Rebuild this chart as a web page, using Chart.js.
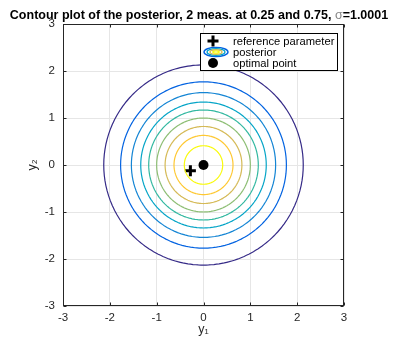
<!DOCTYPE html>
<html><head><meta charset="utf-8">
<script src="https://cdn.jsdelivr.net/npm/chart.js@4/dist/chart.umd.min.js"></script>
<style>html,body{margin:0;padding:0;background:#fff;}</style>
</head><body>
<canvas id="c" width="398" height="339"></canvas>
<script>
// ---- data ----
const titleParts = ['Contour plot of the posterior, 2 meas. at 0.25 and 0.75, ', 'σ', '=1.0001'];
const xTicks = [-3, -2, -1, 0, 1, 2, 3];
const yTicks = [-3, -2, -1, 0, 1, 2, 3];
const contourRadii = [2.13, 1.77, 1.54, 1.34, 1.17, 1.00, 0.82, 0.63, 0.41];
const contourCenter = [0, 0];
const referenceParameter = [-0.28, -0.12];
const optimalPoint = [0, 0];
const legendLabels = ['reference parameter', 'posterior', 'optimal point'];
const axisLabels = ['y₁', 'y₂'];

// ---- styles ----
const contourColors = ['#352a87', '#0363e1', '#1485d4', '#06a5c7', '#33b8a1', '#8dbe74', '#d5ba57', '#fec832', '#f9fa0e'];
const FONT = '"Liberation Sans", Arial, Helvetica, sans-serif';
const AX = '#262626';

function circlePoints(c, r) {
  const pts = [];
  for (let a = 0; a <= 360; a += 3) {
    const t = a * Math.PI / 180;
    pts.push({x: c[0] + r * Math.cos(t), y: c[1] + r * Math.sin(t)});
  }
  return pts;
}

const datasets = contourRadii.map((r, i) => ({
  label: 'posterior', data: circlePoints(contourCenter, r), showLine: true,
  borderColor: contourColors[i], borderWidth: 1.2, pointRadius: 0, fill: false, tension: 0.0001
}));
datasets.push({label: legendLabels[0], data: [{x: referenceParameter[0], y: referenceParameter[1]}],
  pointStyle: 'cross', pointRadius: 5.5, borderColor: '#000', borderWidth: 3, backgroundColor: '#000'});
datasets.push({label: legendLabels[2], data: [{x: optimalPoint[0], y: optimalPoint[1]}],
  pointStyle: 'circle', pointRadius: 5, borderColor: '#000', borderWidth: 0, backgroundColor: '#000'});

const decor = {
  id: 'decor',
  afterDatasetsDraw(chart) {
    const {ctx, chartArea: a, scales: {x, y}} = chart;
    ctx.save();
    ctx.strokeStyle = AX; ctx.lineWidth = 1;
    const L = Math.round(a.left) + 0.5, R = Math.round(a.right) - 0.5, T = Math.round(a.top) + 0.5, B = Math.round(a.bottom) - 0.5;
    ctx.strokeRect(L, T, R - L, B - T);
    ctx.beginPath();
    xTicks.forEach(v => { const px = Math.round(x.getPixelForValue(v)) + 0.5;
      ctx.moveTo(px, B); ctx.lineTo(px, B - 3); ctx.moveTo(px, T); ctx.lineTo(px, T + 3); });
    yTicks.forEach(v => { const py = Math.round(y.getPixelForValue(v)) + 0.5;
      ctx.moveTo(L, py); ctx.lineTo(L + 3, py); ctx.moveTo(R, py); ctx.lineTo(R - 3, py); });
    ctx.stroke();
    ctx.restore();
  },
  afterDraw(chart) {
    const {ctx, chartArea: a} = chart;
    ctx.save();
    // title
    const fb = 'bold 12.5px ' + FONT, fn = '12.5px ' + FONT;
    ctx.font = fb; const w0 = ctx.measureText(titleParts[0]).width, w2 = ctx.measureText(titleParts[2]).width;
    ctx.font = fn; const w1 = ctx.measureText(titleParts[1]).width;
    let tx = 199 - (w0 + w1 + w2) / 2; const ty = 19;
    ctx.textBaseline = 'alphabetic'; ctx.textAlign = 'left';
    ctx.fillStyle = '#000'; ctx.font = fb; ctx.fillText(titleParts[0], tx, ty); tx += w0;
    ctx.fillStyle = '#888'; ctx.font = fn; ctx.fillText(titleParts[1], tx, ty); tx += w1;
    ctx.fillStyle = '#000'; ctx.font = fb; ctx.fillText(titleParts[2], tx, ty);
    // legend
    const lx = Math.round(a.right) - 144, ly = Math.round(a.top) + 9, lw = 137, lh = 37;
    ctx.fillStyle = '#fff'; ctx.fillRect(lx, ly, lw, lh);
    ctx.strokeStyle = '#000'; ctx.lineWidth = 1; ctx.strokeRect(lx + 0.5, ly + 0.5, lw, lh);
    const rows = [ly + 8, ly + 19, ly + 30];
    const ix = lx + 13;
    ctx.strokeStyle = '#000'; ctx.lineWidth = 3; ctx.beginPath();
    ctx.moveTo(ix - 5.5, rows[0]); ctx.lineTo(ix + 5.5, rows[0]);
    ctx.moveTo(ix, rows[0] - 5.5); ctx.lineTo(ix, rows[0] + 5.5); ctx.stroke();
    const ell = [[12, 4.6, contourColors[1]], [9, 3.4, contourColors[3]], [6, 2.2, contourColors[6]], [3.2, 1.1, contourColors[8]]];
    ctx.lineWidth = 1.4;
    ell.forEach(([rx, ry, c]) => { ctx.strokeStyle = c; ctx.beginPath(); ctx.ellipse(ix + 3, rows[1], rx, ry, 0, 0, 2 * Math.PI); ctx.stroke(); });
    ctx.fillStyle = '#000'; ctx.beginPath(); ctx.arc(ix, rows[2], 5, 0, 2 * Math.PI); ctx.fill();
    ctx.font = '11.2px ' + FONT; ctx.fillStyle = '#000'; ctx.textBaseline = 'middle';
    legendLabels.forEach((t, i) => ctx.fillText(t, lx + 33, rows[i] + 0.5));
    ctx.restore();
  }
};

new Chart(document.getElementById('c'), {
  type: 'scatter',
  data: {datasets},
  options: {
    responsive: false, animation: false, devicePixelRatio: 1,
    layout: {padding: {top: 24, right: 54, bottom: 0, left: 0}},
    plugins: {legend: {display: false}, tooltip: {enabled: false}, title: {display: false}},
    scales: {
      x: {
        type: 'linear', min: -3, max: 3,
        afterBuildTicks: s => { s.ticks = xTicks.map(v => ({value: v})); },
        afterFit: s => { s.height = 33; },
        ticks: {color: AX, font: {size: 11.5, family: FONT}, padding: 5, maxRotation: 0},
        grid: {color: '#e6e6e6', drawTicks: false},
        border: {display: false},
        title: {display: true, text: axisLabels[0], color: AX, font: {size: 12.5, family: FONT}, padding: {top: 0, bottom: 2}}
      },
      y: {
        type: 'linear', min: -3, max: 3,
        afterBuildTicks: s => { s.ticks = yTicks.map(v => ({value: v})); },
        afterFit: s => { s.width = 63; },
        ticks: {color: AX, font: {size: 11.5, family: FONT}, padding: 8},
        grid: {color: '#e6e6e6', drawTicks: false},
        border: {display: false},
        title: {display: true, text: axisLabels[1], color: AX, font: {size: 12.5, family: FONT}, padding: {top: 25, bottom: 0}}
      }
    }
  },
  plugins: [decor]
});
</script>
</body></html>
